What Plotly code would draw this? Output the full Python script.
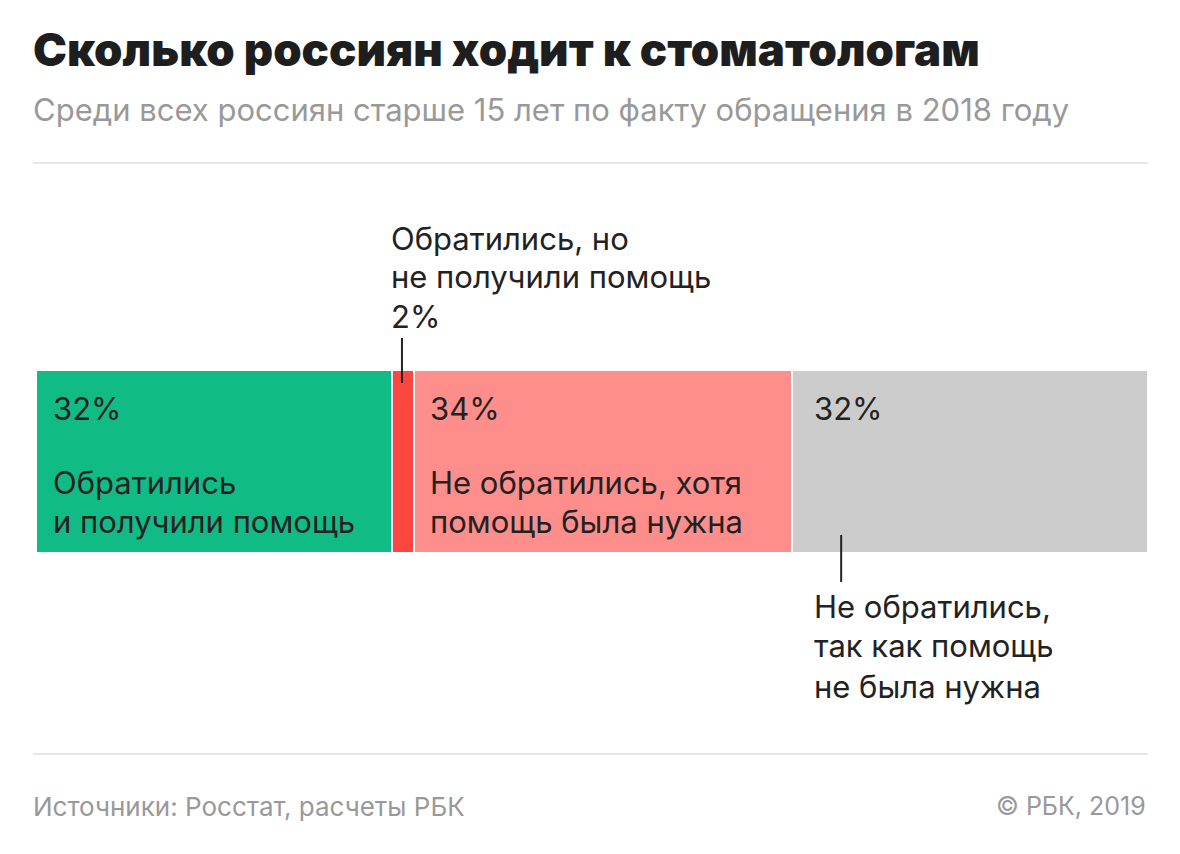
import plotly.graph_objects as go

# ---- data ----
categories = [
    "Обратились и получили помощь",
    "Обратились, но не получили помощь",
    "Не обратились, хотя помощь была нужна",
    "Не обратились, так как помощь не была нужна",
]
values = [32, 2, 34, 32]
colors = ["#11bb86", "#fd463f", "#fe8e8c", "#cccccc"]
pct_labels = ["32%", "2%", "34%", "32%"]

title = "Сколько россиян ходит к стоматологам"
subtitle = "Среди всех россиян старше 15 лет по факту обращения в 2018 году"
source = "Источники: Росстат, расчеты РБК"
copyright_txt = "© РБК, 2019"

W, H = 1180, 854
PX_L, PX_R = 36, 1148          # bar extent in pixels
BAR_TOP, BAR_BOT = 370, 553
scale = (PX_R - PX_L) / sum(values)
x_range = [-PX_L / scale, (W - PX_L) / scale]

FONT = "Inter, Roboto, 'Open Sans', sans-serif"
TXT = "#222222"
BODY = 31

fig = go.Figure()
bar_y = (BAR_TOP + BAR_BOT) / 2
bar_h = BAR_BOT - BAR_TOP
for cat, v, c in zip(categories, values, colors):
    fig.add_trace(go.Bar(
        y=[bar_y], x=[v], orientation="h", width=bar_h, name=cat,
        marker=dict(color=c, line=dict(color="white", width=2)),
        hoverinfo="skip", showlegend=False,
    ))

starts = [sum(values[:i]) for i in range(len(values))]

def ann(x, y, text, size=BODY, color=TXT, xanchor="left", xshift=0,
        xref="x", yref="y", weight=None, family=FONT):
    f = dict(family=family, size=size, color=color)
    if weight:
        f["weight"] = weight
    fig.add_annotation(x=x, y=y, text=text, xref=xref, yref=yref,
                       xanchor=xanchor, yanchor="middle", showarrow=False,
                       xshift=xshift, font=f, align="left")

# inside labels
ann(starts[0], 408, pct_labels[0], xshift=15)
ann(starts[0], 482, "Обратились", xshift=15)
ann(starts[0], 521, "и получили помощь", xshift=15)

ann(starts[2], 408, pct_labels[2], xshift=14)
ann(starts[2], 482, "Не обратились, хотя", xshift=14)
ann(starts[2], 521, "помощь была нужна", xshift=14)

ann(starts[3], 408, pct_labels[3], xshift=20)

# red label above
ann(starts[1], 238, "Обратились, но", xshift=-3)
ann(starts[1], 276, "не получили помощь", xshift=-3)
ann(starts[1], 316, pct_labels[1], xshift=-3)

# gray label below
ann(starts[3], 606, "Не обратились,", xshift=20)
ann(starts[3], 645, "так как помощь", xshift=20)
ann(starts[3], 686, "не была нужна", xshift=20)

# leader lines
fig.add_shape(type="line", xref="x", yref="y", xsizemode="pixel",
              xanchor=starts[1] + values[1] / 2, x0=-1, x1=-1, y0=338, y1=383,
              line=dict(color=TXT, width=2))
fig.add_shape(type="line", xref="x", yref="y", xsizemode="pixel",
              xanchor=starts[3], x0=49, x1=49, y0=535, y1=582,
              line=dict(color=TXT, width=2))

# separators
for yy in (163, 754):
    fig.add_shape(type="line", xref="paper", yref="y", x0=33 / W, x1=1148 / W,
                  y0=yy, y1=yy, line=dict(color="#e6e6e6", width=2))

# title / subtitle / footer
ann(31 / W, 49, title, size=45.5, color="#1e1e1e", xref="paper", weight=900)
ann(31 / W, 109, subtitle, size=31, color="#999999", xref="paper")
ann(31 / W, 806, source, size=26, color="#999999", xref="paper")
ann(1148 / W, 806, copyright_txt, size=25, color="#999999", xref="paper",
    xanchor="right")

fig.update_layout(
    width=W, height=H, barmode="stack", bargap=0,
    margin=dict(l=0, r=0, t=0, b=0),
    paper_bgcolor="white", plot_bgcolor="white",
    xaxis=dict(range=x_range, visible=False, fixedrange=True),
    yaxis=dict(range=[H, 0], visible=False, fixedrange=True),
    font=dict(family=FONT),
)

fig.write_html("out.html", config={"displayModeBar": False},
               post_script="document.body.style.margin='0px';")
